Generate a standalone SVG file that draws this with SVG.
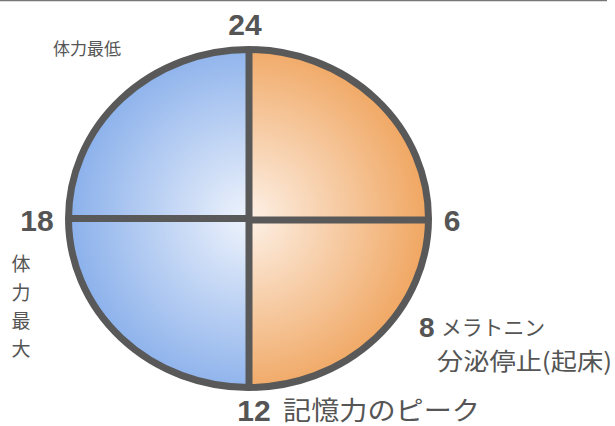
<svg xmlns="http://www.w3.org/2000/svg" width="615" height="426" viewBox="0 0 615 426">
<defs>
<radialGradient id="gBlue" gradientUnits="userSpaceOnUse" cx="248" cy="218" r="180">
<stop offset="0" stop-color="#eef3fc"/>
<stop offset="1" stop-color="#8ab0eb"/>
</radialGradient>
<radialGradient id="gOrange" gradientUnits="userSpaceOnUse" cx="248" cy="218" r="180">
<stop offset="0" stop-color="#fdf1e7"/>
<stop offset="1" stop-color="#f0a661"/>
</radialGradient>
<style>
.num{font-family:"Liberation Sans",Arial,sans-serif;font-weight:bold;fill:#555555}
.jp{font-family:"Noto Sans CJK JP","Noto Sans",sans-serif;fill:#555555}
.ln{stroke:#595959;stroke-width:7;fill:none}
</style>
</defs>
<line x1="0" y1="0.5" x2="607" y2="0.5" stroke="#777777" stroke-width="1.5"/>
<g id="clock">
<path d="M249,49.5 A180,169 0 0 0 249,387.5 Z" fill="url(#gBlue)"/>
<path d="M249,49.5 A180,169 0 0 1 249,387.5 Z" fill="url(#gOrange)"/>
</g>
<g id="connectors">
<line class="ln" x1="68" y1="218.5" x2="249" y2="218.5"/>
<line class="ln" x1="249" y1="220" x2="428" y2="220"/>
<line class="ln" x1="249" y1="49.5" x2="249" y2="387.5"/>
<ellipse class="ln" cx="248.5" cy="218.5" rx="180" ry="169"/>
</g>
<g id="label24"><text class="num" x="245" y="35" font-size="30" text-anchor="middle">24</text></g>
<g id="label18"><text class="num" x="37" y="231" font-size="30" text-anchor="middle">18</text></g>
<g id="label6"><text class="num" x="452" y="231" font-size="30" text-anchor="middle">6</text></g>
<g id="label12"><text class="num" x="254" y="421" font-size="30" text-anchor="middle">12</text>
<text class="jp" x="283" y="420" font-size="26" textLength="197" lengthAdjust="spacingAndGlyphs">記憶力のピーク</text></g>
<g id="label8"><text class="num" x="419" y="337" font-size="28">8</text>
<text class="jp" x="441" y="335" font-size="21" textLength="104" lengthAdjust="spacingAndGlyphs">メラトニン</text>
<text class="jp" x="437" y="370" font-size="24" textLength="175" lengthAdjust="spacingAndGlyphs">分泌停止(起床)</text></g>
<g id="labelLow"><text class="jp" x="53" y="55" font-size="17">体力最低</text></g>
<g id="labelMax">
<text class="jp" x="21" y="271" font-size="19" text-anchor="middle">体</text>
<text class="jp" x="21" y="300" font-size="19" text-anchor="middle">力</text>
<text class="jp" x="21" y="328" font-size="19" text-anchor="middle">最</text>
<text class="jp" x="21" y="356" font-size="19" text-anchor="middle">大</text>
</g>
</svg>
